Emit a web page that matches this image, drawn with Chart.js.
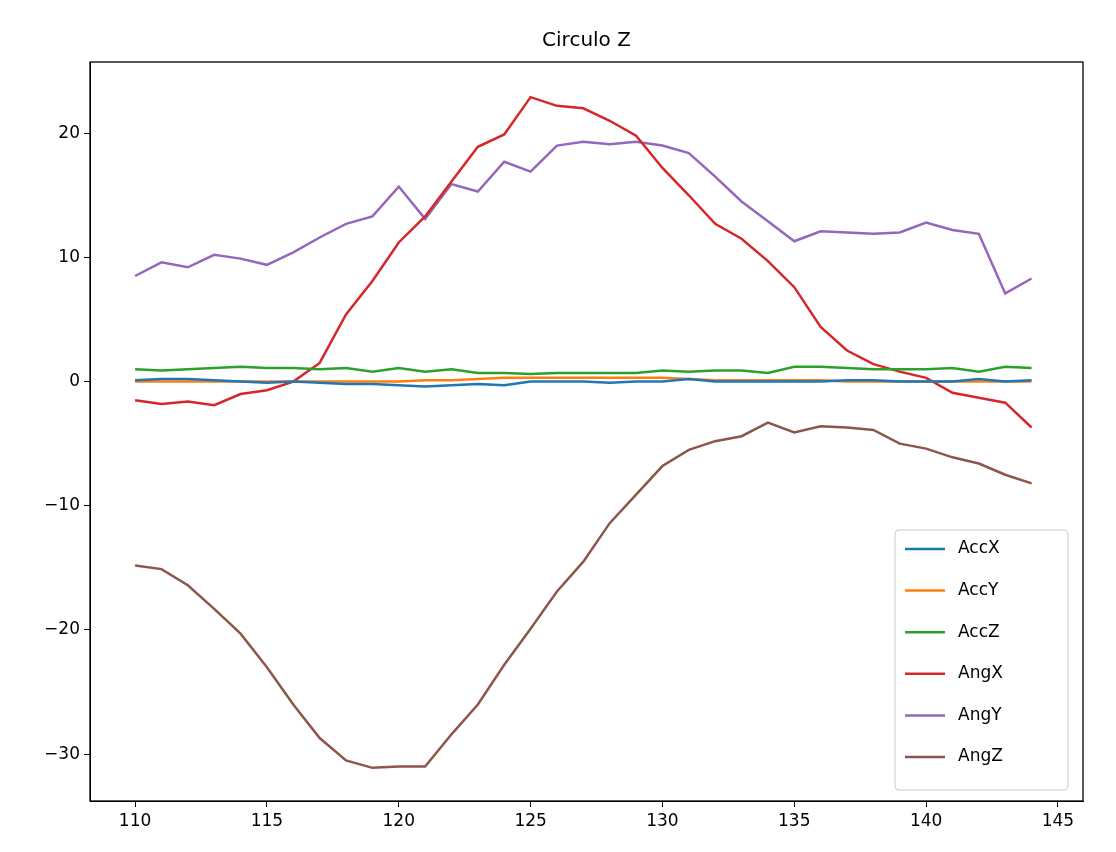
<!DOCTYPE html>
<html lang="en">
<head>
  <meta charset="UTF-8" />
  <title>Circulo Z</title>
  <script src="https://cdn.jsdelivr.net/npm/chart.js"></script>
  <style>
    body { margin: 0; background: #fff; }
  </style>
</head>
<body>
<canvas id="c" width="1116" height="852"></canvas>
<script>
  const xs = Array.from({ length: 35 }, (_, i) => 110 + i);
  const xTicks = [110, 115, 120, 125, 130, 135, 140, 145];
  const yTicks = [-30, -20, -10, 0, 10, 20];

  const accX = [0.1,0.2,0.2,0.1,0,-0.1,0,-0.1,-0.2,-0.2,-0.3,-0.4,-0.3,-0.2,-0.3,0,0,0,-0.1,0,0,0.2,0,0,0,0,0,0.1,0.1,0,0,0,0.2,0,0.1];
  const accY = [0,0,0,0,0,0,0,0,0,0,0,0.1,0.1,0.2,0.3,0.3,0.3,0.3,0.3,0.3,0.3,0.2,0.1,0.1,0.1,0.1,0.1,0,0,0,0,0,0,0,0];
  const accZ = [1.0,0.9,1.0,1.1,1.2,1.1,1.1,1.0,1.1,0.8,1.1,0.8,1.0,0.7,0.7,0.6,0.7,0.7,0.7,0.7,0.9,0.8,0.9,0.9,0.7,1.2,1.2,1.1,1.0,1.0,1.0,1.1,0.8,1.2,1.1];
  const angX = [-1.5,-1.8,-1.6,-1.9,-1.0,-0.7,0,1.5,5.4,8.1,11.2,13.3,16.1,18.9,19.9,22.9,22.2,22.0,21.0,19.8,17.2,15.0,12.7,11.5,9.7,7.6,4.4,2.5,1.4,0.8,0.3,-0.9,-1.3,-1.7,-3.7];
  const angY = [8.5,9.6,9.2,10.2,9.9,9.4,10.4,11.6,12.7,13.3,15.7,13.1,15.9,15.3,17.7,16.9,19.0,19.3,19.1,19.3,19.0,18.4,16.5,14.5,12.9,11.3,12.1,12.0,11.9,12.0,12.8,12.2,11.9,7.1,8.3];
  const angZ = [-14.8,-15.1,-16.4,-18.3,-20.3,-23.0,-26.0,-28.7,-30.5,-31.1,-31.0,-31.0,-28.4,-26.0,-22.8,-19.9,-16.9,-14.5,-11.4,-9.1,-6.8,-5.5,-4.8,-4.4,-3.3,-4.1,-3.6,-3.7,-3.9,-5.0,-5.4,-6.1,-6.6,-7.5,-8.2];

  const names = ['AccX', 'AccY', 'AccZ', 'AngX', 'AngY', 'AngZ'];
  const colors = ['#1f77b4', '#ff7f0e', '#2ca02c', '#d62728', '#9467bd', '#8c564b'];
  const series = [accX, accY, accZ, angX, angY, angZ];

  const FONT = '"DejaVu Sans", sans-serif';

  // title, frame and matplotlib-like legend
  const decor = {
    id: 'decor',
    afterDraw(chart) {
      const { ctx, chartArea: a } = chart;
      ctx.save();
      ctx.strokeStyle = '#000';
      ctx.lineWidth = 1.3;
      ctx.strokeRect(a.left, a.top, a.right - a.left, a.bottom - a.top);
      ctx.fillStyle = '#000';
      ctx.font = '20px ' + FONT;
      ctx.textAlign = 'center';
      ctx.textBaseline = 'alphabetic';
      ctx.fillText('Circulo Z', (a.left + a.right) / 2, 46);

      const bx = 895, by = 530, bw = 173, bh = 260;
      ctx.fillStyle = 'rgba(255,255,255,0.8)';
      ctx.strokeStyle = '#ccc';
      ctx.lineWidth = 1;
      ctx.beginPath();
      ctx.roundRect(bx, by, bw, bh, 4);
      ctx.fill();
      ctx.stroke();
      ctx.font = '17px ' + FONT;
      ctx.textAlign = 'left';
      ctx.textBaseline = 'middle';
      names.forEach((n, i) => {
        const y = 549 + i * 41.6;
        ctx.strokeStyle = colors[i];
        ctx.lineWidth = 2.5;
        ctx.beginPath();
        ctx.moveTo(905, y);
        ctx.lineTo(945, y);
        ctx.stroke();
        ctx.fillStyle = '#000';
        ctx.fillText(n, 958, y);
      });
      ctx.restore();
    }
  };

  new Chart(document.getElementById('c'), {
    type: 'line',
    data: {
      datasets: names.map((n, i) => ({
        label: n,
        data: xs.map((x, j) => ({ x: x, y: series[i][j] })),
        borderColor: colors[i],
        backgroundColor: colors[i],
        borderWidth: 2.5,
        pointRadius: 0,
        tension: 0
      }))
    },
    options: {
      responsive: false,
      animation: false,
      layout: { padding: { top: 62, right: 33, left: 0, bottom: 0 } },
      plugins: { legend: { display: false }, title: { display: false }, tooltip: { enabled: false } },
      scales: {
        x: {
          type: 'linear',
          min: 108.29,
          max: 145.95,
          afterBuildTicks: s => { s.ticks = xTicks.map(v => ({ value: v })); },
          afterFit: s => { s.height = 51; },
          grid: { drawOnChartArea: false, tickLength: 6, color: '#000' },
          border: { color: '#000' },
          ticks: { color: '#000', font: { size: 17, family: FONT }, padding: 4, maxRotation: 0 }
        },
        y: {
          min: -33.77,
          max: 25.73,
          afterBuildTicks: s => { s.ticks = yTicks.map(v => ({ value: v })); },
          afterFit: s => { s.width = 90; },
          grid: { drawOnChartArea: false, tickLength: 6, color: '#000' },
          border: { color: '#000' },
          ticks: {
            color: '#000', font: { size: 17, family: FONT }, padding: 4,
            callback: v => (v < 0 ? '\u2212' + Math.abs(v) : '' + v)
          }
        }
      }
    },
    plugins: [decor]
  });
</script>
</body>
</html>
